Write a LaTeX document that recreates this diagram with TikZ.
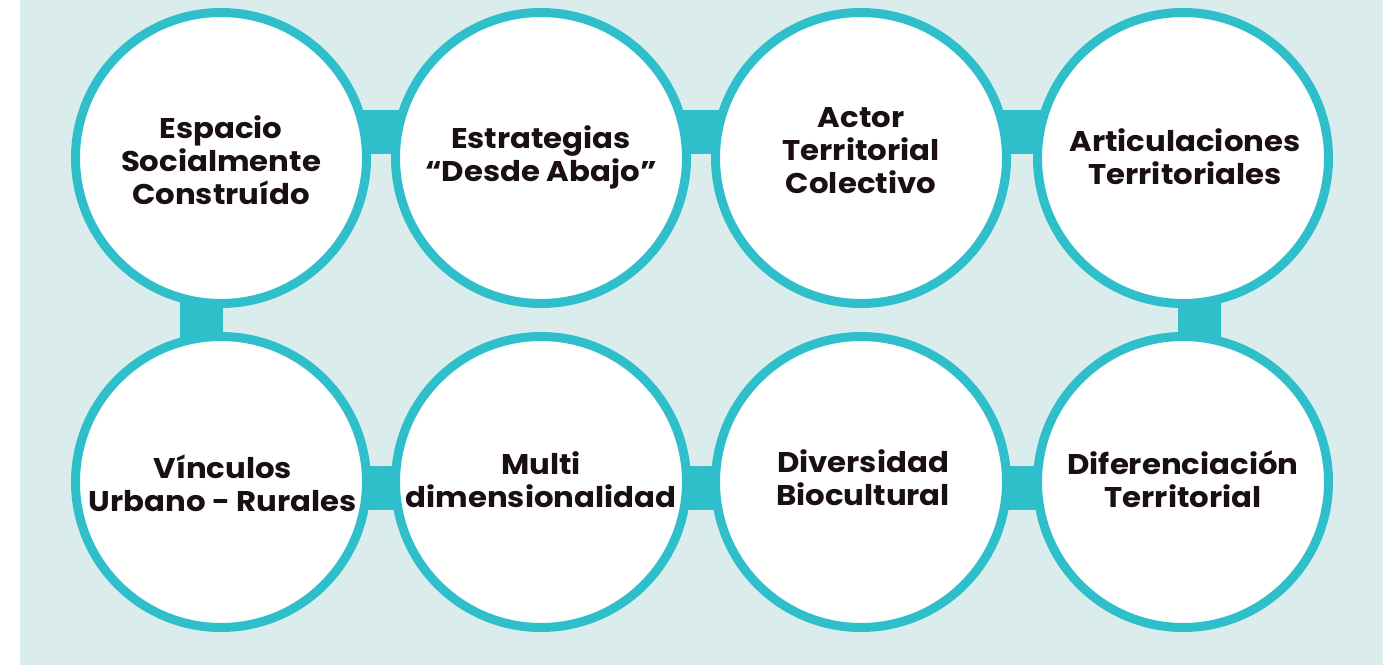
\documentclass[tikz,border=0pt]{standalone}
\usepackage{fontspec}
\setmainfont{Poppins}[BoldFont={Poppins Bold}, BoldFeatures={FakeStretch=1.08}]
\definecolor{bgteal}{HTML}{DAEDEC}
\definecolor{ring}{HTML}{2FBFCB}
\definecolor{ink}{HTML}{1A1014}
\tikzset{
  ringnode/.style={circle, draw=ring, line width=9pt, fill=white, minimum size=291pt, inner sep=0pt},
  label/.style={align=center, text=ink, font=\bfseries\fontsize{28.5}{33}\selectfont, inner sep=0pt},
  hbar/.style={draw=ring, line width=44pt},
  vbar/.style={draw=ring, line width=43pt}
}
\begin{document}
\begin{tikzpicture}[x=1pt,y=-1pt]
\useasboundingbox (0,0) rectangle (1397,665);
\fill[bgteal] (20,0) rectangle (1383,665);
% circles positions (coordinates only, nodes drawn after bars)
\coordinate (p1) at (221,158);
\coordinate (p2) at (541,158);
\coordinate (p3) at (861,158);
\coordinate (p4) at (1183,158);
\coordinate (p5) at (221,482);
\coordinate (p6) at (541,482);
\coordinate (p7) at (861,482);
\coordinate (p8) at (1183,482);
% connector bars
\draw[hbar] ([yshift=26pt]p1) -- ([yshift=26pt]p2);
\draw[hbar] ([yshift=26pt]p2) -- ([yshift=26pt]p3);
\draw[hbar] ([yshift=26pt]p3) -- ([yshift=26pt]p4);
\draw[hbar] ([yshift=-6pt]p5) -- ([yshift=-6pt]p6);
\draw[hbar] ([yshift=-6pt]p6) -- ([yshift=-6pt]p7);
\draw[hbar] ([yshift=-6pt]p7) -- ([yshift=-6pt]p8);
\draw[vbar] ([xshift=-19.5pt]p1) -- ([xshift=-19.5pt]p5);
\draw[vbar] ([xshift=16.5pt]p4) -- ([xshift=16.5pt]p8);
% circles
\node[ringnode] (c1) at (p1) {};
\node[ringnode] (c2) at (p2) {};
\node[ringnode] (c3) at (p3) {};
\node[ringnode] (c4) at (p4) {};
\node[ringnode] (c5) at (p5) {};
\node[ringnode] (c6) at (p6) {};
\node[ringnode] (c7) at (p7) {};
\node[ringnode] (c8) at (p8) {};
% labels
\node[label] (t1) at (221,160) {Espacio\\Socialmente\\Construído};
\node[label] (t2) at (541,157) {Estrategias\\“Desde Abajo”};
\node[label] (t3) at (861,151) {Actor\\Territorial\\Colectivo};
\node[label] (t4) at (1185,157) {Articulaciones\\Territoriales};
\node[label] (t5) at (223,483) {Vínculos\\Urbano - Rurales};
\node[label] (t6) at (541,480) {Multi\\dimensionalidad};
\node[label] (t7) at (863,478) {Diversidad\\Biocultural};
\node[label] (t8) at (1183,479) {Diferenciación\\Territorial};
\end{tikzpicture}
\end{document}
